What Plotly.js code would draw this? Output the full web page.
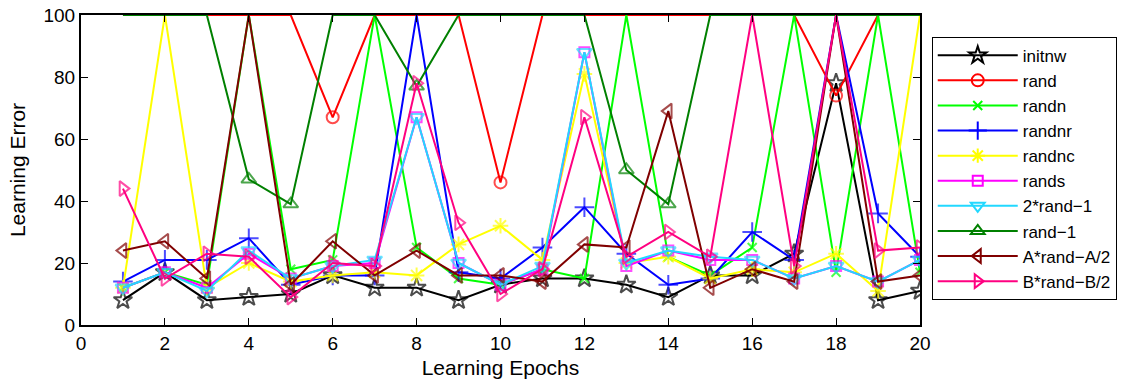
<!DOCTYPE html>
<html>
<head>
<meta charset="utf-8">
<script src="https://cdn.plot.ly/plotly-3.0.1.min.js"></script>
<style>html,body{margin:0;padding:0;background:#fff;}#chart{width:1130px;height:385px;}</style>
</head>
<body>
<div id="chart"></div>
<script>
const epochs = [1,2,3,4,5,6,7,8,9,10,11,12,13,14,15,16,17,18,19,20];
const seriesNames = ["initnw","rand","randn","randnr","randnc","rands","2*rand\u22121","rand\u22121","A*rand\u2212A/2","B*rand\u2212B/2"];
const initnw = [8,17,8,9,10,16,12,12,8,13,15,15,13,9,16,16,23,78,8,11];
const rand = [100,100,100,100,100,67,100,100,100,46,100,100,100,100,100,100,100,74,100,100];
const randn = [12,17,13,100,18,21,100,25,15,13,18,15,100,22,16,25,100,17,100,17];
const randnr = [14,21,21,28,13,16,16,100,17,15,25,38,23,13,15,30,21,100,36,22];
const randnc = [12,100,12,20,14,16,17,16,26,32,21,81,20,22,15,18,17,23,11,100];
const rands = [12,17,12,23,15,19,20,67,20,13,18,88,19,24,21,21,15,19,14,21];
const rand2m1 = [12,17,11,24,15,19,21,67,20,13,19,88,20,24,22,21,15,19,14,21];
const randm1 = [100,100,100,47,39,100,100,77,100,100,100,100,50,39,100,100,100,100,100,100];
const arandA2 = [24,27,15,100,13,27,16,24,16,16,14,26,25,69,12,18,14,100,14,16];
const brandB2 = [44,15,23,22,9,20,19,78,33,10,18,67,22,30,22,100,19,100,24,25];

const xTicks = [0,2,4,6,8,10,12,14,16,18,20];
const yTicks = [0,20,40,60,80,100];

const allSeries = [initnw, rand, randn, randnr, randnc, rands, rand2m1, randm1, arandA2, brandB2];
const colors = ["#000000","#ff0000","#00ff00","#0000ff","#ffff00","#ff00ff","#22d8ff","#008000","#800000","#ff0080"];
const symbols = ["star-open","circle-open","x-thin-open","cross-thin-open","asterisk-open","square-open","triangle-down-open","triangle-up-open","triangle-left-open","triangle-right-open"];
const msizes = [14,12,9,14,13,10,13,13,13,13];
const legendSizes = [13,12,9,13,12,10,12,12,12,12];

// data traces (markers hidden where the curve is clipped at the top limit)
const dataTraces = allSeries.map((vals, i) => ({
  x: epochs,
  y: vals,
  name: seriesNames[i],
  type: "scatter",
  mode: "lines+markers",
  line: {color: colors[i], width: 2},
  marker: {
    symbol: symbols[i],
    color: colors[i],
    size: vals.map(v => v >= 100 ? 0 : msizes[i]),
    line: {color: colors[i], width: 2}
  },
  legendgroup: "g" + i,
  showlegend: false
}));

// legend entries
const legendTraces = allSeries.map((vals, i) => ({
  x: [null],
  y: [null],
  name: seriesNames[i],
  type: "scatter",
  mode: "lines+markers",
  line: {color: colors[i], width: 2},
  marker: {symbol: symbols[i], color: colors[i], size: legendSizes[i], line: {color: colors[i], width: 2}},
  legendgroup: "g" + i,
  showlegend: true
}));

const tickFont = {family: "Liberation Sans, Arial, sans-serif", size: 19, color: "#000"};
const titleFont = {family: "Liberation Sans, Arial, sans-serif", size: 21, color: "#000"};
const layout = {
  width: 1130, height: 385,
  margin: {l: 81, r: 210, t: 15, b: 60},
  paper_bgcolor: "#fff", plot_bgcolor: "#fff",
  font: tickFont,
  showlegend: true,
  legend: {
    x: 1.014, xanchor: "left", y: 0.93, yanchor: "top",
    bordercolor: "#000", borderwidth: 1, bgcolor: "#fff",
    font: {family: "Liberation Sans, Arial, sans-serif", size: 17, color: "#000"},
    itemwidth: 80, tracegroupgap: 0
  },
  xaxis: {
    range: [0, 20], tickvals: xTicks, ticktext: xTicks.map(String),
    ticks: "inside", ticklen: 7, tickcolor: "#000", tickwidth: 1,
    showline: true, linecolor: "#000", linewidth: 2, mirror: "ticks",
    showgrid: false, zeroline: false, tickfont: tickFont,
    title: {text: "Learning Epochs", font: titleFont, standoff: 8}
  },
  yaxis: {
    range: [0, 100], tickvals: yTicks, ticktext: yTicks.map(String),
    ticks: "inside", ticklen: 7, tickcolor: "#000", tickwidth: 1,
    showline: true, linecolor: "#000", linewidth: 2, mirror: "ticks",
    showgrid: false, zeroline: false, tickfont: tickFont,
    title: {text: "Learning Error", font: titleFont, standoff: 12}
  }
};
Plotly.newPlot("chart", dataTraces.concat(legendTraces), layout, {displayModeBar: false, staticPlot: true});
</script>
</body>
</html>
